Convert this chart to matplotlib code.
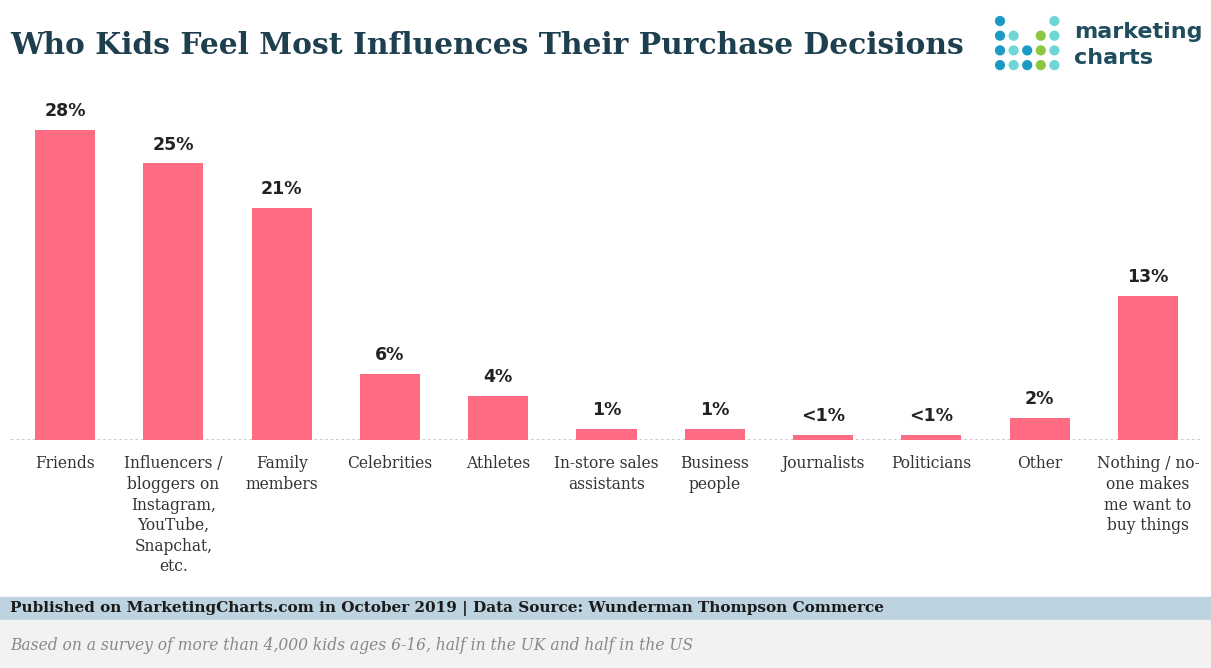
"""Bar chart: who kids feel most influences their purchase decisions."""

import matplotlib.pyplot as plt
from matplotlib.patches import Rectangle, Ellipse

categories = [
    "Friends",
    "Influencers /\nbloggers on\nInstagram,\nYouTube,\nSnapchat,\netc.",
    "Family\nmembers",
    "Celebrities",
    "Athletes",
    "In-store sales\nassistants",
    "Business\npeople",
    "Journalists",
    "Politicians",
    "Other",
    "Nothing / no-\none makes\nme want to\nbuy things",
]
values = [28, 25, 21, 6, 4, 1, 1, 0.45, 0.45, 2, 13]
value_labels = ["28%", "25%", "21%", "6%", "4%", "1%", "1%", "<1%", "<1%", "2%", "13%"]

BAR_COLOR = "#ff6b83"
TITLE_COLOR = "#1d3f4e"
SERIF = ["DejaVu Serif"]

W, H = 1211, 668


def main():
    fig = plt.figure(figsize=(W / 100, H / 100), dpi=100)
    fig.patch.set_facecolor("white")

    # plot area in pixel terms: baseline at y=440, 11.07 px per percent
    ax = fig.add_axes([11 / W, (H - 440) / H, 1191 / W, 332 / H])
    x = range(len(categories))
    ax.bar(x, values, width=0.555, color=BAR_COLOR, zorder=2)
    ax.set_xlim(-0.5, len(categories) - 0.5)
    ax.set_ylim(0, 30)
    ax.axhline(0, color="#c8c8c8", linewidth=1.3, linestyle=(0, (1.5, 1.5)), zorder=1)
    for side in ax.spines.values():
        side.set_visible(False)
    ax.set_yticks([])
    ax.set_xticks(list(x))
    ax.set_xticklabels(categories, family=SERIF, fontsize=11.2, color="#333333",
                       linespacing=1.28)
    ax.tick_params(axis="x", length=0, pad=11)

    for xi, v, lab in zip(x, values, value_labels):
        ax.annotate(lab, (xi, v), xytext=(0, 7), textcoords="offset points",
                    ha="center", va="bottom", fontsize=12.5, fontweight="bold",
                    color="#222222")

    # title
    fig.text(10 / W, 1 - 46 / H, "Who Kids Feel Most Influences Their Purchase Decisions",
             family=SERIF, fontsize=21.4, fontweight="bold", color=TITLE_COLOR,
             ha="left", va="center")

    # logo: dot grid plus wordmark
    dark, light, green = "#1b9ac4", "#6fd6d6", "#8dc63f"
    grid = [
        [dark, None, None, None, light],
        [dark, light, None, green, light],
        [dark, light, dark, green, light],
        [dark, light, dark, green, light],
    ]
    for r, row in enumerate(grid):
        for c, col in enumerate(row):
            if col is None:
                continue
            cx = (1000 + c * 13.6) / W
            cy = 1 - (21 + r * 14.7) / H
            fig.patches.append(Ellipse((cx, cy), 8.8 / W, 8.8 / H,
                                       transform=fig.transFigure, color=col, figure=fig))
    fig.text(1074 / W, 1 - 32 / H, "marketing", fontsize=16, fontweight="bold",
             color="#1f4d5e", ha="left", va="center")
    fig.text(1074 / W, 1 - 58 / H, "charts", fontsize=16, fontweight="bold",
             color="#1f4d5e", ha="left", va="center")

    # footer bands
    fig.patches.append(Rectangle((0, (H - 619) / H), 1, 22 / H, transform=fig.transFigure,
                                 color="#bdd3e0", figure=fig, zorder=0))
    fig.patches.append(Rectangle((0, 0), 1, (H - 620) / H, transform=fig.transFigure,
                                 color="#f2f2f2", figure=fig, zorder=0))
    fig.text(10 / W, 1 - 608 / H,
             "Published on MarketingCharts.com in October 2019 | Data Source: Wunderman Thompson Commerce",
             family=SERIF, fontsize=11.0, fontweight="bold", color="#1a1a1a",
             ha="left", va="center")
    fig.text(10 / W, 1 - 646 / H,
             "Based on a survey of more than 4,000 kids ages 6-16, half in the UK and half in the US",
             family=SERIF, fontsize=11.2, style="italic", color="#888888",
             ha="left", va="center")

    fig.savefig("out.png", dpi=100)
    plt.close(fig)


if __name__ == "__main__":
    main()
